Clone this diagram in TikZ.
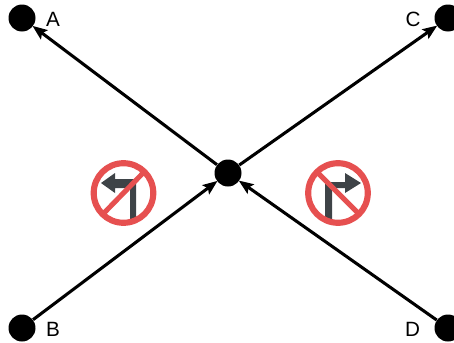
\documentclass[tikz,border=0pt]{standalone}
\usepackage{fontspec}
\setmainfont{Liberation Sans}
\usetikzlibrary{arrows.meta}
\definecolor{signred}{HTML}{E65050}
\definecolor{signdark}{HTML}{3E4347}
\tikzset{
  x=0.75pt,y=-0.75pt,
  dot/.style={circle,fill=black,draw=none,inner sep=0pt,minimum size=27*0.75pt},
  lab/.style={inner sep=0pt,font=\fontsize{15.5pt}{18pt}\selectfont,text=black},
  link/.style={draw=black,line width=2.3pt,-{Stealth[length=11pt,width=8.5pt,inset=2pt]},shorten >=-0.5pt},
  ring/.style={draw=signred,line width=4.6pt,fill=none},
  bar/.style={draw=signred,line width=3.8pt},
  sym/.style={fill=signdark,draw=none}
}
\begin{document}
\begin{tikzpicture}
\useasboundingbox (0,0) rectangle (454,343);
\clip (0,0) rectangle (454,343);
\node[dot] (m) at (228,173) {};
\node[dot] (a) at (22,18) {};
\node[dot] (c) at (448,18) {};
\node[dot] (b) at (22,328) {};
\node[dot] (d) at (448,328) {};
\node[lab] (la) at (53,19) {A};
\node[lab] (lc) at (413,19) {C};
\node[lab] (lb) at (53,329.5) {B};
\node[lab] (ld) at (412.5,329.5) {D};
\draw[link] (m) -- (a);
\draw[link] (m) -- (c);
\draw[link] (b) -- (m);
\draw[link] (d) -- (m);
% left sign
\fill[sym] (136,219) -- (136,179) -- (115,179) -- (115,173) -- (101,183) -- (115,193) -- (115,188) -- (130,188) -- (130,219) -- cycle;
\draw[ring] (123.5,193) circle (29.8);
\draw[bar] (104,213) -- (144,172);
% right sign
\fill[sym] (325,219) -- (325,182) -- (345,182) -- (345,173) -- (361,183) -- (345,193) -- (345,188) -- (332,188) -- (332,219) -- cycle;
\draw[ring] (338,193) circle (29.8);
\draw[bar] (317,172) -- (358,213);
\end{tikzpicture}
\end{document}
